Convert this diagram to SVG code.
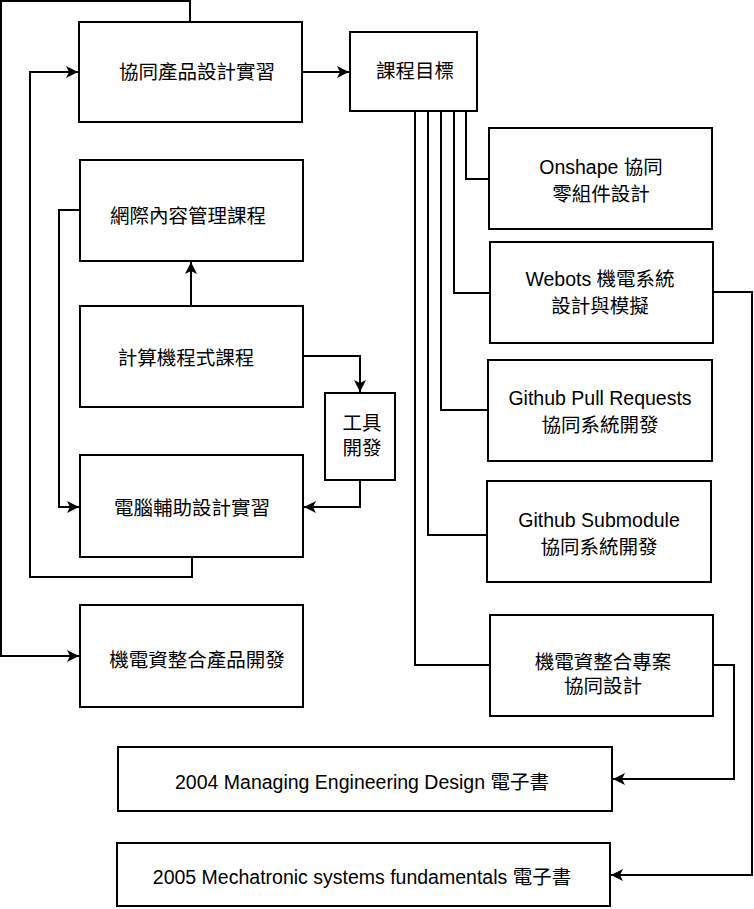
<svg xmlns="http://www.w3.org/2000/svg" width="754" height="909" viewBox="0 0 754 909">
<style>
.box{fill:#fff;stroke:#000;stroke-width:2}
.t{font-family:"Liberation Sans","Noto Sans CJK TC",sans-serif;font-size:19.5px;fill:#000;text-anchor:middle;dominant-baseline:central}
.c{fill:none;stroke:#000;stroke-width:2}
</style>
<defs>
<marker id="arr" markerUnits="userSpaceOnUse" markerWidth="12" markerHeight="12" refX="12" refY="6" orient="auto">
<path d="M0,0 L12,6 L0,12 L3,6 Z" fill="#000"/>
</marker>
</defs>
<g id="connectors">
<path class="c" d="M190,22 V1 H1 V656 H79" marker-end="url(#arr)"/>
<path class="c" d="M192,557 V577 H30 V72 H78" marker-end="url(#arr)"/>
<path class="c" d="M302,72 H349" marker-end="url(#arr)"/>
<path class="c" d="M80,210 H59 V507 H79" marker-end="url(#arr)"/>
<path class="c" d="M191,306 V262" marker-end="url(#arr)"/>
<path class="c" d="M303,356 H360 V392" marker-end="url(#arr)"/>
<path class="c" d="M360,480 V507 H304" marker-end="url(#arr)"/>
<path class="c" d="M466,111 V179 H489"/>
<path class="c" d="M454,111 V293 H490"/>
<path class="c" d="M441,111 V410 H488"/>
<path class="c" d="M428,111 V535 H487"/>
<path class="c" d="M415,111 V665 H490"/>
<path class="c" d="M713,292 H752 V875 H611" marker-end="url(#arr)"/>
<path class="c" d="M713,665 H734 V779 H613" marker-end="url(#arr)"/>
</g>
<g id="n1"><rect class="box" x="79" y="22" width="223" height="100"/><text class="t" x="197" y="72">協同產品設計實習</text></g>
<g id="n2"><rect class="box" x="350" y="32" width="127" height="79"/><text class="t" x="415" y="71">課程目標</text></g>
<g id="n3"><rect class="box" x="489" y="128" width="223" height="101"/><text class="t" x="601" y="167">Onshape 協同</text><text class="t" x="601" y="194">零組件設計</text></g>
<g id="n4"><rect class="box" x="490" y="242" width="223" height="101"/><text class="t" x="600" y="279">Webots 機電系統</text><text class="t" x="600" y="306">設計與模擬</text></g>
<g id="n5"><rect class="box" x="80" y="160" width="223" height="101"/><text class="t" x="188" y="216">網際內容管理課程</text></g>
<g id="n6"><rect class="box" x="80" y="306" width="223" height="101"/><text class="t" x="186" y="358">計算機程式課程</text></g>
<g id="n7"><rect class="box" x="325" y="393" width="70" height="87"/><text class="t" x="362" y="423">工具</text><text class="t" x="362" y="448">開發</text></g>
<g id="n8"><rect class="box" x="80" y="455" width="223" height="102"/><text class="t" x="192" y="508">電腦輔助設計實習</text></g>
<g id="n9"><rect class="box" x="80" y="605" width="223" height="102"/><text class="t" x="197" y="660">機電資整合產品開發</text></g>
<g id="n10"><rect class="box" x="488" y="360" width="224" height="101"/><text class="t" x="600" y="398">Github Pull Requests</text><text class="t" x="600" y="425">協同系統開發</text></g>
<g id="n11"><rect class="box" x="487" y="481" width="224" height="101"/><text class="t" x="599" y="520">Github Submodule</text><text class="t" x="599" y="547">協同系統開發</text></g>
<g id="n12"><rect class="box" x="490" y="615" width="223" height="101"/><text class="t" x="603" y="662">機電資整合專案</text><text class="t" x="603" y="686">協同設計</text></g>
<g id="n13"><rect class="box" x="118" y="747" width="494" height="64"/><text class="t" x="362" y="782">2004 Managing Engineering Design 電子書</text></g>
<g id="n14"><rect class="box" x="117" y="843" width="493" height="63"/><text class="t" x="362" y="877">2005 Mechatronic systems fundamentals 電子書</text></g>
</svg>
